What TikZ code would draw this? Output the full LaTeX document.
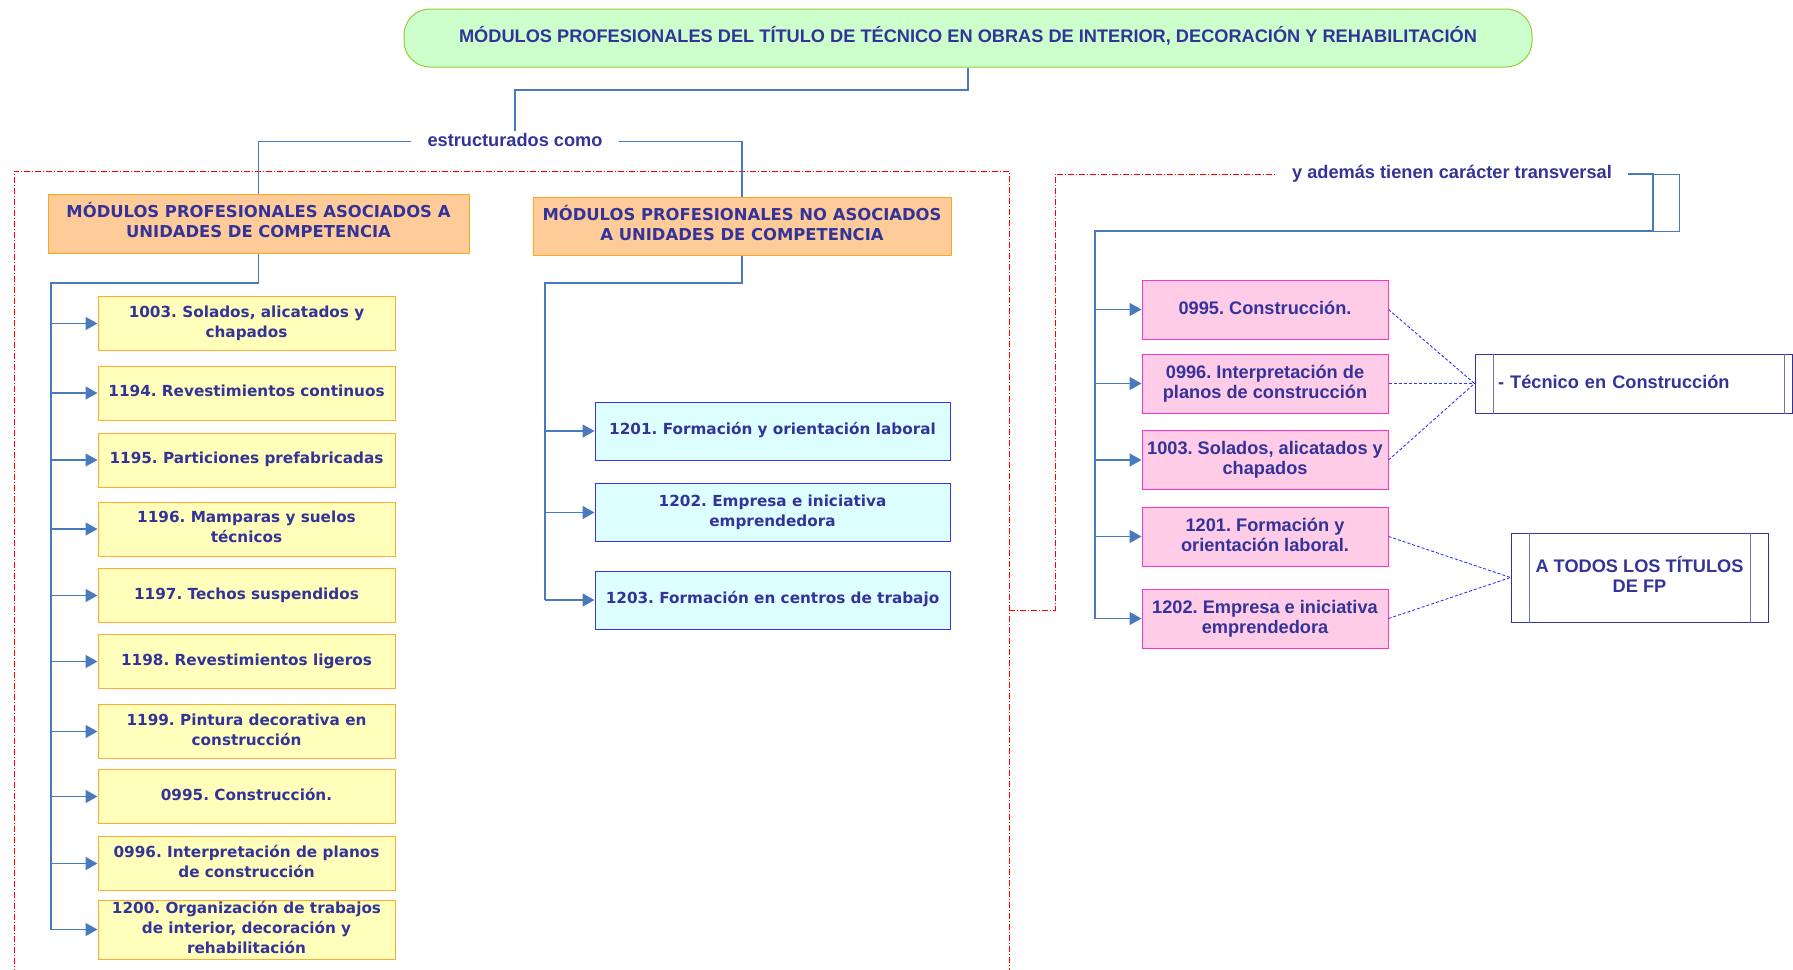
\documentclass[tikz,border=0pt]{standalone}
\usepackage{fontspec}
\setmainfont{Liberation Sans}
\newfontfamily\vfont{DejaVu Sans}
\usetikzlibrary{arrows.meta}
\definecolor{navy}{RGB}{51,51,153}
\definecolor{cblue}{RGB}{74,122,190}
\definecolor{gfill}{RGB}{204,255,204}
\definecolor{gdraw}{RGB}{153,204,51}
\definecolor{yfill}{RGB}{255,255,187}
\definecolor{ydraw}{RGB}{255,170,51}
\definecolor{ofill}{RGB}{255,204,153}
\definecolor{odraw}{RGB}{255,165,30}
\definecolor{cfill}{RGB}{221,255,255}
\definecolor{cdraw}{RGB}{51,51,255}
\definecolor{pfill}{RGB}{255,204,232}
\definecolor{pdraw}{RGB}{255,51,204}
\definecolor{dblue}{RGB}{51,51,255}
\definecolor{rline}{RGB}{255,0,0}
\tikzset{
  afont/.style={font=\fontsize{18.2}{20}\selectfont\bfseries, text height=13pt, text depth=4pt},
  vfnt/.style={font=\vfont\fontsize{15.25}{20}\selectfont\bfseries, text height=11pt, text depth=3.6pt},
  ofnt/.style={font=\vfont\fontsize{16.4}{20}\selectfont\bfseries, text height=12pt, text depth=3.9pt},
  titlebox/.style={afont, text=navy, draw=gdraw, fill=gfill, line width=1pt, rounded corners=26pt, minimum width=1128pt, minimum height=58pt, inner sep=0pt},
  lbl/.style={afont, text=navy, inner xsep=16pt, inner ysep=2pt},
  obox/.style={ofnt, text=navy, draw=odraw, fill=ofill, line width=1pt, inner sep=0pt, align=center},
  ybox/.style={vfnt, text=navy, draw=ydraw, fill=yfill, line width=1pt, inner sep=0pt, align=center, minimum width=297pt, minimum height=54pt},
  cbox/.style={vfnt, text=navy, draw=cdraw, fill=cfill, line width=1pt, inner sep=0pt, align=center, minimum width=355pt, minimum height=58pt},
  pbox/.style={afont, text=navy, draw=pdraw, fill=pfill, line width=1pt, inner sep=0pt, align=center, minimum width=246pt, minimum height=59pt},
  wbox/.style={afont, text=navy, draw=navy, fill=white, line width=1pt, inner sep=0pt},
  wline/.style={draw=navy!70, line width=1pt},
  conn/.style={draw=cblue, line width=1.2pt},
  tree/.style={draw=cblue, line width=1.8pt},
  arr/.style={draw=cblue, line width=1.5pt, -{Triangle[length=12pt,width=13pt]}},
  dconn/.style={draw=dblue, line width=0.9pt, dash pattern=on 3pt off 2pt},
  rdash/.style={draw=rline, line width=1pt, dash pattern=on 6pt off 2pt on 1pt off 2pt},
}
\begin{document}
\frenchspacing
\begin{tikzpicture}[x=1pt,y=-1pt]
\useasboundingbox (0,0) rectangle (1793,969);

% red dash-dot frame
\draw[rdash] (14,975) -- (14,171) -- (1009,171) -- (1009,975);

% title and labels
\node[titlebox] (T) at (968,38) {MÓDULOS PROFESIONALES DEL TÍTULO DE TÉCNICO EN OBRAS DE INTERIOR, DECORACIÓN Y REHABILITACIÓN};
\node[lbl] (E) at (515,141.5) {estructurados como};
\node[lbl] (Tr) at (1452,174) {y además tienen carácter transversal};

% orange boxes
\node[obox, text height=32pt, minimum width=421pt, minimum height=59pt] (O1) at (258.5,223.5) {MÓDULOS PROFESIONALES ASOCIADOS A\\UNIDADES DE COMPETENCIA};
\node[obox, text height=32pt, minimum width=418pt, minimum height=58pt] (O2) at (742,226) {MÓDULOS PROFESIONALES NO ASOCIADOS\\A UNIDADES DE COMPETENCIA};

% yellow boxes
\node[ybox, text height=31pt] (Y1) at (246.5,323.5) {1003. Solados, alicatados y\\chapados};
\node[ybox] (Y2) at (246.5,393) {1194. Revestimientos continuos};
\node[ybox] (Y3) at (246.5,460) {1195. Particiones prefabricadas};
\node[ybox, text height=31pt] (Y4) at (246.5,529) {1196. Mamparas y suelos\\técnicos};
\node[ybox] (Y5) at (246.5,595.5) {1197. Techos suspendidos};
\node[ybox] (Y6) at (246.5,661.5) {1198. Revestimientos ligeros};
\node[ybox, text height=31pt] (Y7) at (246.5,731.5) {1199. Pintura decorativa en\\construcción};
\node[ybox] (Y8) at (246.5,796.5) {0995. Construcción.};
\node[ybox, text height=31pt] (Y9) at (246.5,863.5) {0996. Interpretación de planos\\de construcción};
\node[ybox, text height=51pt, minimum height=59pt] (Y10) at (246.5,929.5) {1200. Organización de trabajos\\de interior, decoración y\\rehabilitación};

% cyan boxes
\node[cbox] (C1) at (772.5,431) {1201. Formación y orientación laboral};
\node[cbox, text height=31pt] (C2) at (772.5,512.5) {1202. Empresa e iniciativa\\emprendedora};
\node[cbox] (C3) at (772.5,600) {1203. Formación en centros de trabajo};

% pink boxes
\node[pbox] (P1) at (1265,309.5) {0995. Construcción.};
\node[pbox, text height=33pt] (P2) at (1265,383.5) {0996. Interpretación de\\planos de construcción};
\node[pbox, text height=33pt] (P3) at (1265,460) {1003. Solados, alicatados y\\chapados};
\node[pbox, text height=33pt] (P4) at (1265,536.5) {1201. Formación y\\orientación laboral.};
\node[pbox, text height=33pt] (P5) at (1265,618.5) {1202. Empresa e iniciativa\\emprendedora};

% white boxes
\node[wbox, minimum width=317pt, minimum height=59pt, text width=271pt, align=left] (TC) at (1633.5,383.5) {- Técnico en Construcción};
\draw[wline] ([xshift=19pt]TC.north west) -- ([xshift=19pt]TC.south west);
\draw[wline] ([xshift=-8pt]TC.north east) -- ([xshift=-8pt]TC.south east);
\node[wbox, text height=33pt, minimum width=257pt, minimum height=89pt, align=center] (AT) at (1639.5,577.5) {A TODOS LOS TÍTULOS\\DE FP};
\draw[wline] ([xshift=19pt]AT.north west) -- ([xshift=19pt]AT.south west);
\draw[wline] ([xshift=-18pt]AT.north east) -- ([xshift=-18pt]AT.south east);

% red connector to the transversal label
\draw[rdash] (1009,610) -- (1055,610) -- (1055,174) -- (Tr.west);

% title connectors
\coordinate (tk) at (515,90);
\draw[conn] (T.south) |- (tk) -- (E.north);
\draw[conn] (E.west) -| (O1.north);
\draw[conn] (E.east) -| (O2.north);

% left tree
\coordinate (L) at (51,283);
\draw[tree] (O1.south) |- (L) -- (L |- Y10.west);
\foreach \n in {Y1,Y2,Y3,Y4,Y5,Y6,Y7,Y8,Y9,Y10}
  \draw[arr] (L |- \n.west) -- (\n.west);

% middle tree
\coordinate (M) at (545,283);
\draw[tree] (O2.south) |- (M) -- (M |- C3.west);
\foreach \n in {C1,C2,C3}
  \draw[arr] (M |- \n.west) -- (\n.west);

% right tree
\coordinate (B1) at (1653,174);
\coordinate (R) at (1095,231);
\draw[tree] (Tr.east) -- (B1) |- (R) -- (R |- P5.west);
\draw[conn, line width=1pt] (B1) rectangle (1679,231);
\foreach \n in {P1,P2,P3,P4,P5}
  \draw[arr] (R |- \n.west) -- (\n.west);

% dashed links
\foreach \n in {P1,P2,P3}
  \draw[dconn] (\n.east) -- (TC.west);
\foreach \n in {P4,P5}
  \draw[dconn] (\n.east) -- (AT.west);
\end{tikzpicture}
\end{document}
